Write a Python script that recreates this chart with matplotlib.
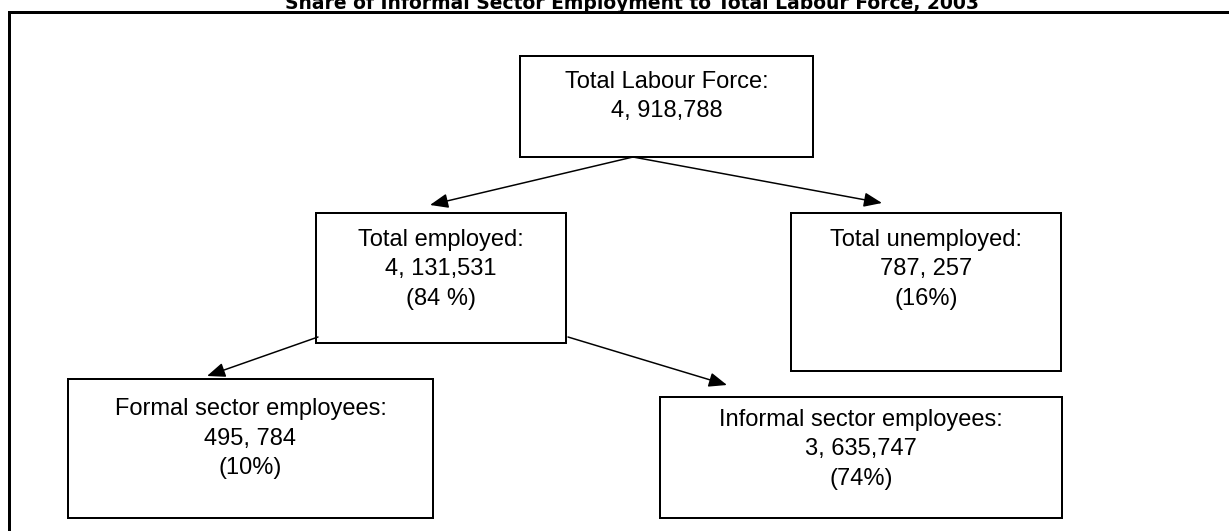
import matplotlib.pyplot as plt
from matplotlib.patches import Rectangle, FancyArrowPatch

title = "Share of Informal Sector Employment to Total Labour Force, 2003"

# boxes: heading, count, share
labels = ["Total Labour Force:", "Total employed:", "Total unemployed:",
          "Formal sector employees:", "Informal sector employees:"]
counts = ["4, 918,788", "4, 131,531", "787, 257", "495, 784", "3, 635,747"]
shares = ["", "(84 %)", "(16%)", "(10%)", "(74%)"]

# layout in pixels: x0, y0 (top), x1, y1 (bottom), first baseline offset
boxes = [(520, 56, 813, 157, 32),
         (316, 213, 566, 343, 33),
         (791, 213, 1061, 371, 33),
         (68, 379, 433, 518, 36),
         (660, 397, 1062, 518, 29)]
# arrows: start -> tip
arrows = [((633, 157), (430, 205)),
          ((633, 157), (882, 203)),
          ((318, 337), (207, 376)),
          ((568, 337), (727, 385))]

W, H = 1229, 531
fig = plt.figure(figsize=(W / 100, H / 100), dpi=100)
ax = fig.add_axes([0, 0, 1, 1])
ax.set_xlim(0, W)
ax.set_ylim(H, 0)
ax.axis('off')

px = 72 / 100  # points per pixel

# outer frame (only top and left visible)
ax.plot([9, W + 5], [12, 12], color='black', lw=3 * px, solid_capstyle='projecting')
ax.plot([9, 9], [12, H + 5], color='black', lw=3 * px, solid_capstyle='projecting')

# title sits above the frame and is cut by the top edge
ax.text(632, 9, title, ha='center', va='baseline', fontsize=13.5,
        fontweight='bold', family='DejaVu Sans')

for (x0, y0, x1, y1, off), lab, cnt, shr in zip(boxes, labels, counts, shares):
    ax.add_patch(Rectangle((x0, y0), x1 - x0, y1 - y0, fill=False,
                           edgecolor='black', lw=2 * px))
    cx = (x0 + x1) / 2
    lines = [lab, cnt] + ([shr] if shr else [])
    for i, t in enumerate(lines):
        ax.text(cx, y0 + off + 29.5 * i, t, ha='center', va='baseline',
                fontsize=17, family='Liberation Sans')

for start, tip in arrows:
    ax.add_patch(FancyArrowPatch(start, tip, arrowstyle='-|>,head_length=0.55,head_width=0.22',
                                 mutation_scale=20, color='black', lw=1.5 * px,
                                 shrinkA=0, shrinkB=0))

plt.savefig('out.png', dpi=100)
